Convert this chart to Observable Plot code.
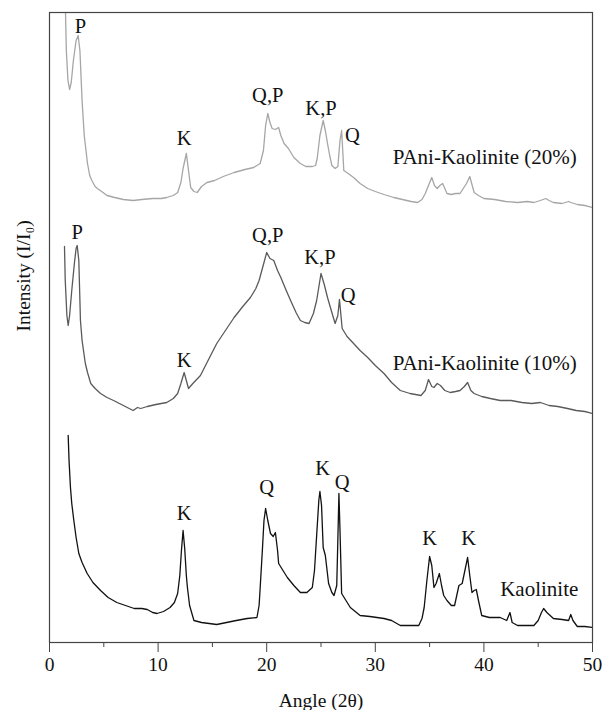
<!DOCTYPE html>
<html>
<head>
<meta charset="utf-8">
<script src="https://cdn.jsdelivr.net/npm/d3@7"></script>
<script src="https://cdn.jsdelivr.net/npm/@observablehq/plot@0.6"></script>
<style>
  html, body { margin: 0; padding: 0; background: #fff; }
  #chart svg { display: block; }
  #chart svg, #chart svg text { font-family: "Liberation Serif", "Times New Roman", Times, serif !important; }
</style>
</head>
<body>
<div id="chart"></div>
<script>
// Angle (2θ) / intensity (arbitrary units)
const pani20Angle = [1.45,1.55,1.7,1.85,2.0,2.2,2.45,2.64,2.8,3.0,3.2,3.5,3.7,3.9,4.2,4.4,4.8,5.3,6.0,6.8,7.7,8.5,9.5,10.3,10.8,11.4,11.8,12.1,12.3,12.6,12.8,13.0,13.3,13.6,14.0,14.5,15.2,16.0,17.0,18.0,18.8,19.4,19.7,19.9,20.1,20.3,20.5,20.8,21.1,21.3,21.6,22.0,22.5,23.1,23.6,24.2,24.5,24.65,24.9,25.2,25.4,25.6,25.8,26.0,26.3,26.55,26.75,26.9,27.0,27.1,27.5,28.0,28.6,29.3,30.0,30.8,31.7,32.5,33.3,33.9,34.3,34.6,34.9,35.2,35.45,35.7,35.95,36.2,36.4,36.6,37.0,37.4,37.8,38.1,38.4,38.7,38.9,39.1,39.5,40.0,41.0,42.0,43.1,44.0,44.6,45.2,45.7,46.0,46.4,47.2,47.8,48.0,48.6,49.3,50.0];
const pani20Int = [642,592,562,553,560,582,602,607,592,542,507,479,467,462,456,454,451,447,445,443,442,443,444,444,445,447,450,460,474,489,472,455,451,450,456,460,462,466,470,473,475,479,492,517,529,520,514,513,515,507,499,494,485,479,476,476,477,484,507,522,512,499,487,477,474,476,502,512,492,472,469,465,459,454,451,448,445,443,441,440,443,449,457,465,457,454,457,459,454,449,448,449,449,454,459,466,458,450,447,444,443,441,440,441,440,442,444,442,440,439,441,440,438,437,435];

const pani10Angle = [1.38,1.45,1.6,1.72,1.85,2.05,2.3,2.45,2.55,2.7,2.85,3.0,3.3,3.5,3.8,4.2,4.7,5.3,5.9,6.8,7.7,8.1,8.4,9.0,9.8,10.8,11.4,11.8,12.1,12.4,12.6,12.8,13.2,13.9,14.6,15.4,16.2,17.0,17.8,18.5,19.0,19.3,19.6,20.0,20.3,20.65,21.0,21.3,21.8,22.2,22.7,23.1,23.5,23.9,24.3,24.6,25.0,25.3,25.6,26.0,26.3,26.55,26.7,26.95,27.4,28.0,28.6,29.3,30.0,30.8,31.5,32.3,33.2,34.2,34.6,34.9,35.2,35.4,35.7,36.0,36.4,36.9,37.4,37.8,38.2,38.5,38.8,39.1,39.8,40.6,41.5,42.5,43.5,44.4,45.2,46.0,46.8,47.7,48.5,49.3,50.0];
const pani10Int = [396,362,327,317,327,352,380,394,397,382,322,302,279,270,259,254,249,245,242,237,232,235,234,236,238,240,244,249,259,270,262,254,259,267,282,299,312,325,336,345,354,362,374,390,384,382,372,365,352,342,330,322,320,319,329,342,369,358,345,330,319,327,343,314,306,299,292,285,277,269,260,252,249,247,252,263,256,255,259,257,252,250,251,252,256,260,252,249,246,244,242,242,240,239,240,237,236,234,232,231,229];

const kaolAngle = [1.72,1.8,1.93,2.05,2.24,2.45,2.7,3.0,3.47,4.0,4.7,5.4,6.2,7.0,7.8,8.5,9.0,9.5,9.9,10.5,11.1,11.5,11.8,12.0,12.15,12.3,12.45,12.6,12.7,12.9,13.3,14.0,14.7,15.4,16.3,17.2,18.2,19.1,19.3,19.4,19.6,19.75,19.9,20.1,20.35,20.6,20.8,21.0,21.1,21.5,21.9,22.5,23.1,23.7,24.2,24.4,24.6,24.8,24.9,25.05,25.2,25.4,25.7,26.0,26.2,26.45,26.55,26.65,26.75,26.9,27.3,27.7,28.6,29.5,30.8,31.5,32.3,33.2,34.0,34.3,34.5,34.75,35.0,35.2,35.4,35.6,35.9,36.1,36.3,36.6,37.0,37.3,37.5,37.7,38.0,38.25,38.5,38.7,38.9,39.1,39.3,39.5,39.8,40.5,41.5,42.1,42.4,42.6,43.1,44.0,44.6,45.0,45.3,45.5,45.8,46.4,47.2,47.8,48.0,48.2,48.6,49.3,50.0];
const kaolInt = [207,182,155,139,122,105,89,80,69,60,52,45,40,37,34,34,33,30,29,31,35,40,49,67,92,112,94,67,55,37,22,20,19,18,20,22,24,25,37,55,92,122,134,122,109,106,110,92,79,72,65,57,50,50,55,72,107,142,151,137,95,87,59,50,47,57,102,149,112,49,42,35,27,26,24,22,17,17,17,24,35,62,86,77,55,59,69,57,47,42,37,37,47,57,59,72,85,67,50,52,53,42,27,25,25,22,30,20,17,17,17,22,30,34,30,24,23,22,28,22,16,16,15];

// Peak annotations: label, angle, intensity
const peakLabels = ["P","K","Q,P","K,P","Q", "P","K","Q,P","K,P","Q", "K","Q","K","Q","K","K"];
const peakAngles = [2.85,12.4,20.1,25.0,27.9, 2.55,12.4,20.1,24.9,27.5, 12.4,20.0,25.15,26.95,35.0,38.6];
const peakInts   = [616,504,547,534,507, 410,282,407,385,347, 129,155,174,160,104,104];

const seriesNames  = ["PAni-Kaolinite (20%)", "PAni-Kaolinite (10%)", "Kaolinite"];
const seriesLabelAngle = [31.6, 31.6, 41.5];
const seriesLabelInt   = [485, 279, 53];
const seriesColors = ["#a6a6a6", "#5a5a5a", "#111111"];

const majorTicks = [0, 10, 20, 30, 40, 50];
const minorTicks = [5, 15, 25, 35, 45];

const toRows = (ang, val) => ang.map((a, i) => ({angle: a, intensity: val[i]}));
const rows20 = toRows(pani20Angle, pani20Int);
const rows10 = toRows(pani10Angle, pani10Int);
const rowsK = toRows(kaolAngle, kaolInt);
const peaks = peakLabels.map((t, i) => ({label: t, angle: peakAngles[i], intensity: peakInts[i]}));
const names = seriesNames.map((t, i) => ({label: t, angle: seriesLabelAngle[i], intensity: seriesLabelInt[i]}));

const chart = Plot.plot({
  width: 602,
  height: 710,
  marginLeft: 49,
  marginRight: 10,
  marginTop: 12,
  marginBottom: 68,
  style: {fontFamily: "Liberation Serif, serif", fontSize: "19px", color: "#111", background: "#fff"},
  x: {domain: [0, 50]},
  y: {domain: [0, 630]},
  marks: [
    Plot.line(rows20, {x: "angle", y: "intensity", stroke: seriesColors[0], strokeWidth: 1.3, clip: true}),
    Plot.line(rows10, {x: "angle", y: "intensity", stroke: seriesColors[1], strokeWidth: 1.3, clip: true}),
    Plot.line(rowsK, {x: "angle", y: "intensity", stroke: seriesColors[2], strokeWidth: 1.3, clip: true}),
    Plot.text(peaks, {x: "angle", y: "intensity", text: "label", fontSize: 20.5, fill: "#111", lineAnchor: "middle"}),
    Plot.text(names, {x: "angle", y: "intensity", text: "label", fontSize: 21, fill: "#111", textAnchor: "start", lineAnchor: "middle"}),
    Plot.frame({stroke: "#444", strokeWidth: 1.2}),
    Plot.axisX({ticks: majorTicks, tickSize: 10, tickPadding: 5, tickFormat: d => String(d), label: null, fontSize: 19.5, fill: "#111", stroke: "#444"}),
    Plot.axisX({ticks: minorTicks, tickSize: 5, tickFormat: () => "", label: null, stroke: "#444"}),
    Plot.axisY({ticks: [], label: null}),
    Plot.text(["Angle (2θ)"], {frameAnchor: "bottom", dy: 58, fontSize: 19.5, fill: "#111", lineAnchor: "middle"}),
    Plot.text(["Intensity (I/I₀)"], {frameAnchor: "left", dx: -26, dy: 4, rotate: -90, fontSize: 19.5, fill: "#111", lineAnchor: "middle"})
  ]
});
document.getElementById("chart").appendChild(chart);
</script>
</body>
</html>
